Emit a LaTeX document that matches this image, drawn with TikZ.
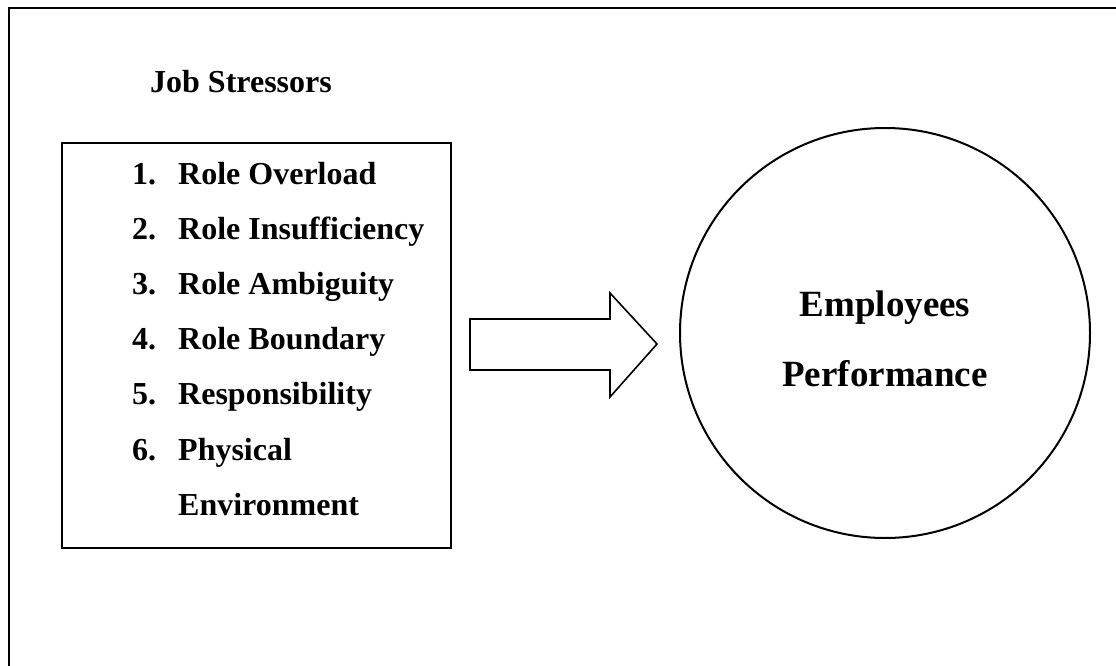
\documentclass[tikz,border=0pt]{standalone}
\usepackage{fontspec}
\setmainfont{Liberation Serif}
\begin{document}
\begin{tikzpicture}[x=1pt,y=-1pt,
  frame/.style={line width=2.8pt},
  listbox/.style={draw,line width=1.6pt,inner sep=0pt,minimum width=389pt,minimum height=405pt},
  blockarrow/.style={draw,line width=1.6pt,line join=miter},
  bubble/.style={draw,circle,line width=2pt,inner sep=0pt,minimum size=410pt},
  heading/.style={anchor=base west,inner sep=0pt,font=\fontsize{32}{38}\selectfont\bfseries},
  item/.style={anchor=base west,inner sep=0pt,font=\fontsize{32}{38}\selectfont\bfseries},
  bigtext/.style={anchor=base,inner sep=0pt,font=\fontsize{37}{44}\selectfont\bfseries}]
\useasboundingbox (0,0) rectangle (1116,666);

% outer frame (top and left edges)
\draw[frame] (1116,8) -- (9,8) -- (9,666);

% heading
\node[heading] (title) at (150,93) {Job Stressors};

% list of stressors
\node[listbox] (stressors) at (256.5,345.5) {};
\foreach \n/\t [count=\i from 0] in {1./Role Overload,2./Role Insufficiency,3./Role Ambiguity,4./Role Boundary,5./Responsibility,6./Physical}{
  \node[item] (num\i) at (132,{184+\i*55.2}) {\n};
  \node[item] (txt\i) at (178,{184+\i*55.2}) {\t};
}
\node[item] (txt6) at (178,515) {Environment};

% block arrow
\draw[blockarrow] (470,319) -- (610,319) -- (610,293) -- (657,344)
  -- (610,397) -- (610,370) -- (470,370) -- cycle;

% outcome
\node[bubble] (perf) at (885,333) {};
\node[bigtext] (emp) at (885,316) {Employees};
\node[bigtext] (per) at (885,386) {Performance};
\end{tikzpicture}
\end{document}
